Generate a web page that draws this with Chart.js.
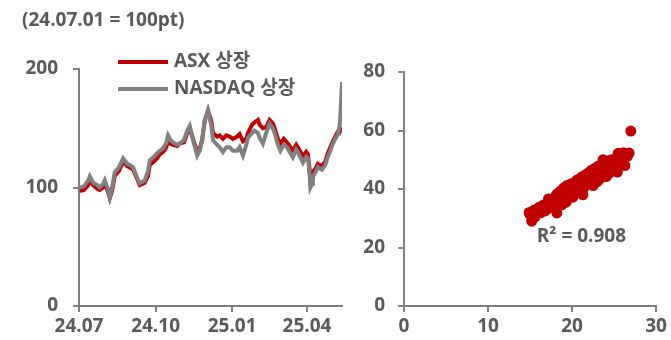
<!DOCTYPE html>
<html>
<head>
<meta charset="utf-8">
<script src="https://cdn.jsdelivr.net/npm/chart.js@4.4.1/dist/chart.umd.min.js"></script>
<style>
  html, body { margin: 0; padding: 0; background: #fff; }
  #wrap { position: relative; width: 671px; height: 340px; overflow: hidden; }
  #lineCanvas { position: absolute; left: 0; top: 0; }
  #scatterCanvas { position: absolute; left: 350px; top: 0; }
</style>
</head>
<body>
<div id="wrap">
  <canvas id="lineCanvas" width="350" height="340"></canvas>
  <canvas id="scatterCanvas" width="321" height="340"></canvas>
</div>
<script>
// Index level since 2024-07-01 (=100), x = days elapsed since 2024-07-01
const dayOffsets = [1, 6, 11, 13, 17, 22, 25, 29, 31, 35, 37, 40, 43, 48, 53, 58, 61, 65, 70, 73,
  79, 83, 85, 90, 94, 97, 101, 105, 107, 110, 113, 118, 121, 126, 130, 133, 137, 142, 145, 148,
  151, 155, 159, 161, 166, 169, 173, 177, 181, 185, 190, 193, 197, 201, 203, 208, 211, 215, 217, 221,
  225, 229, 233, 235, 239, 242, 246, 250, 254, 257, 261, 263, 267, 269, 273, 275, 277, 278, 280, 281,
  285, 287, 292, 296, 299, 302, 305, 308, 311, 313, 314, 316];

const asxListed = [97, 98, 102, 106, 102, 99, 98, 100, 104, 96, 91, 98, 110, 114, 122, 118, 117, 115, 107, 102,
  104, 110, 119, 122, 125, 128, 130, 134, 140, 137, 136, 135, 137, 138, 146, 150, 141, 130, 133, 140,
  156, 165, 156, 146, 143, 144, 141, 144, 143, 141, 143, 145, 139, 141, 146, 153, 155, 157, 153, 150,
  151, 157, 154, 150, 141, 137, 141, 138, 134, 131, 136, 134, 129, 126, 130, 128, 116, 106, 109, 113,
  117, 120, 118, 122, 129, 134, 139, 143, 147, 150, 148, 151];

const nasdaqListed = [100, 101, 106, 109.5, 104, 102, 100, 103, 106, 98, 92, 101, 113, 117, 124.6, 120, 119, 117, 108, 103.6,
  106, 114, 123, 126, 129, 131, 133, 138, 144, 140, 138, 136, 137, 140, 148, 152, 140, 127, 131, 140,
  157, 165, 152, 140, 136, 134, 130, 134, 134, 131, 131, 134, 127, 136, 142, 146, 148, 146, 142, 137,
  146, 154, 150, 146, 136, 131, 136, 134, 129, 125.5, 132, 130, 124, 121, 126, 124.6, 112, 100, 103, 109,
  114, 117, 115, 119, 126, 131, 137, 141, 145, 151, 160, 189];

const xTickDays = [0, 92, 184, 274];
const xTickLabels = ['24.07', '24.10', '25.01', '25.04'];
const seriesNames = ['ASX 상장', 'NASDAQ 상장'];

// Scatter pairs
const scatterX = [14.9, 15.0, 15.2, 15.3, 15.5, 15.6, 15.8, 16.0, 16.1, 16.3, 16.5, 16.6, 16.8, 17.0, 17.1, 17.2, 17.4, 17.5, 17.7, 17.9,
  18.0, 18.1, 18.2, 18.3, 18.4, 18.5, 18.6, 18.7, 18.8, 18.9, 19.0, 19.1, 19.2, 19.3, 19.4, 19.5, 19.6, 19.7, 19.8, 19.9,
  20.0, 20.1, 20.2, 20.3, 20.4, 20.5, 20.6, 20.7, 20.8, 20.9, 21.0, 21.1, 21.2, 21.3, 21.3, 21.4, 21.5, 21.6, 21.7, 21.9,
  22.0, 22.1, 22.2, 22.3, 22.4, 22.5, 22.6, 22.7, 22.8, 22.9, 23.0, 23.1, 23.2, 23.3, 23.4, 23.5, 23.6, 23.7, 23.7, 23.8,
  23.9, 24.0, 24.1, 24.2, 24.3, 24.4, 24.5, 24.6, 24.7, 24.8, 25.0, 25.2, 25.3, 25.4, 25.5, 25.6, 25.9, 26.1, 26.3, 26.5,
  26.6, 26.8, 27.0];
const scatterY = [32.0, 31.3, 29.0, 30.1, 32.8, 30.5, 31.4, 32.6, 33.8, 31.9, 33.0, 34.5, 32.5, 34.8, 33.2, 36.6, 35.0, 33.9, 35.8, 36.9,
  34.2, 37.8, 31.8, 38.5, 36.0, 35.2, 39.2, 37.3, 34.6, 38.2, 40.3, 36.8, 38.9, 35.5, 41.2, 39.6, 37.6, 40.6, 38.4, 41.8,
  39.8, 37.2, 42.0, 40.5, 38.9, 41.4, 43.1, 40.0, 42.4, 39.4, 43.6, 41.6, 44.2, 42.3, 38.0, 40.4, 43.0, 44.9, 41.8, 43.8,
  45.6, 42.7, 44.5, 46.4, 43.4, 41.2, 45.3, 47.0, 44.0, 46.2, 42.5, 47.8, 45.0, 43.5, 46.8, 48.3, 44.6, 47.4, 50.0, 45.8,
  49.0, 46.5, 44.3, 48.0, 49.6, 47.1, 45.5, 48.8, 50.0, 46.3, 49.2, 48.2, 50.5, 45.8, 52.2, 48.9, 51.2, 52.4, 48.0, 52.0,
  51.2, 52.3, 59.8];
const r2Label = 'R² = 0.908';

const RED = '#c00000';
const GREY = '#808080';
const TEXT = '#595959';
const FONT = "'Open Sans', 'Noto Sans CJK KR', sans-serif";
const FONT_SIZE = 19;
const FONT_WEIGHT = 'bold';

Chart.defaults.font.family = FONT;
Chart.defaults.font.size = FONT_SIZE;
Chart.defaults.font.weight = FONT_WEIGHT;
Chart.defaults.color = TEXT;

function axisStyle() {
  return {
    border: { color: GREY, width: 2 },
    grid: { display: true, drawOnChartArea: false, drawTicks: true, tickLength: 6, color: GREY, lineWidth: 2 }
  };
}

// Title and legend drawn on the line chart canvas
const lineDecor = {
  id: 'lineDecor',
  afterDraw(chart) {
    const ctx = chart.ctx;
    ctx.save();
    ctx.font = FONT_WEIGHT + " " + FONT_SIZE + "px " + FONT;
    ctx.fillStyle = TEXT;
    ctx.textBaseline = 'middle';
    ctx.textAlign = 'left';
    ctx.fillText('(24.07.01 = 100pt)', 22, 21);
    const rows = [{ y: 62, color: RED, text: seriesNames[0] }, { y: 89, color: GREY, text: seriesNames[1] }];
    rows.forEach(r => {
      ctx.strokeStyle = r.color;
      ctx.lineWidth = 4;
      ctx.beginPath();
      ctx.moveTo(118, r.y);
      ctx.lineTo(168, r.y);
      ctx.stroke();
      ctx.fillStyle = TEXT;
      ctx.fillText(r.text, 174, r.y);
    });
    ctx.restore();
  }
};

new Chart(document.getElementById('lineCanvas'), {
  type: 'line',
  data: {
    datasets: [
      {
        label: seriesNames[1],
        data: dayOffsets.map((d, i) => ({ x: d, y: nasdaqListed[i] })),
        borderColor: GREY, borderWidth: 4, pointRadius: 0, tension: 0, order: 1
      },
      {
        label: seriesNames[0],
        data: dayOffsets.map((d, i) => ({ x: d, y: asxListed[i] })),
        borderColor: RED, borderWidth: 4, pointRadius: 0, tension: 0, order: 2
      }
    ]
  },
  options: {
    responsive: false, animation: false, devicePixelRatio: 1,
    layout: { padding: { top: 69, right: 8, left: 0, bottom: 0 } },
    plugins: { legend: { display: false }, tooltip: { enabled: false } },
    scales: {
      x: Object.assign(axisStyle(), {
        type: 'linear', min: 0, max: 316,
        afterBuildTicks: axis => { axis.ticks = xTickDays.map(v => ({ value: v })); },
        afterFit: axis => { axis.height = 34; },
        ticks: { padding: 3, maxRotation: 0, autoSkip: false,
          callback: v => { const i = xTickDays.indexOf(v); return i >= 0 ? xTickLabels[i] : ''; } }
      }),
      y: Object.assign(axisStyle(), {
        min: 0, max: 200,
        afterFit: axis => { axis.width = 79; },
        ticks: { stepSize: 100, padding: 15 }
      })
    }
  },
  plugins: [lineDecor]
});

// R-squared annotation at data coordinates
const r2Decor = {
  id: 'r2Decor',
  afterDraw(chart) {
    const ctx = chart.ctx;
    const x = chart.scales.x.getPixelForValue(15.8);
    const y = chart.scales.y.getPixelForValue(23.6);
    ctx.save();
    ctx.font = FONT_WEIGHT + " " + FONT_SIZE + "px " + FONT;
    ctx.fillStyle = TEXT;
    ctx.textAlign = 'left';
    ctx.textBaseline = 'middle';
    ctx.fillText(r2Label, x, y);
    ctx.restore();
  }
};

new Chart(document.getElementById('scatterCanvas'), {
  type: 'scatter',
  data: {
    datasets: [{
      data: scatterX.map((v, i) => ({ x: v, y: scatterY[i] })),
      backgroundColor: RED, borderColor: RED, pointRadius: 5.5, pointBorderWidth: 0
    }]
  },
  options: {
    responsive: false, animation: false, devicePixelRatio: 1,
    layout: { padding: { top: 72, right: 15, left: 0, bottom: 0 } },
    plugins: { legend: { display: false }, tooltip: { enabled: false } },
    scales: {
      x: Object.assign(axisStyle(), {
        type: 'linear', min: 0, max: 30,
        afterFit: axis => { axis.height = 34; },
        ticks: { stepSize: 10, padding: 3, maxRotation: 0 }
      }),
      y: Object.assign(axisStyle(), {
        min: 0, max: 80,
        afterFit: axis => { axis.width = 54; },
        ticks: { stepSize: 20, padding: 13 }
      })
    }
  },
  plugins: [r2Decor]
});
</script>
</body>
</html>
